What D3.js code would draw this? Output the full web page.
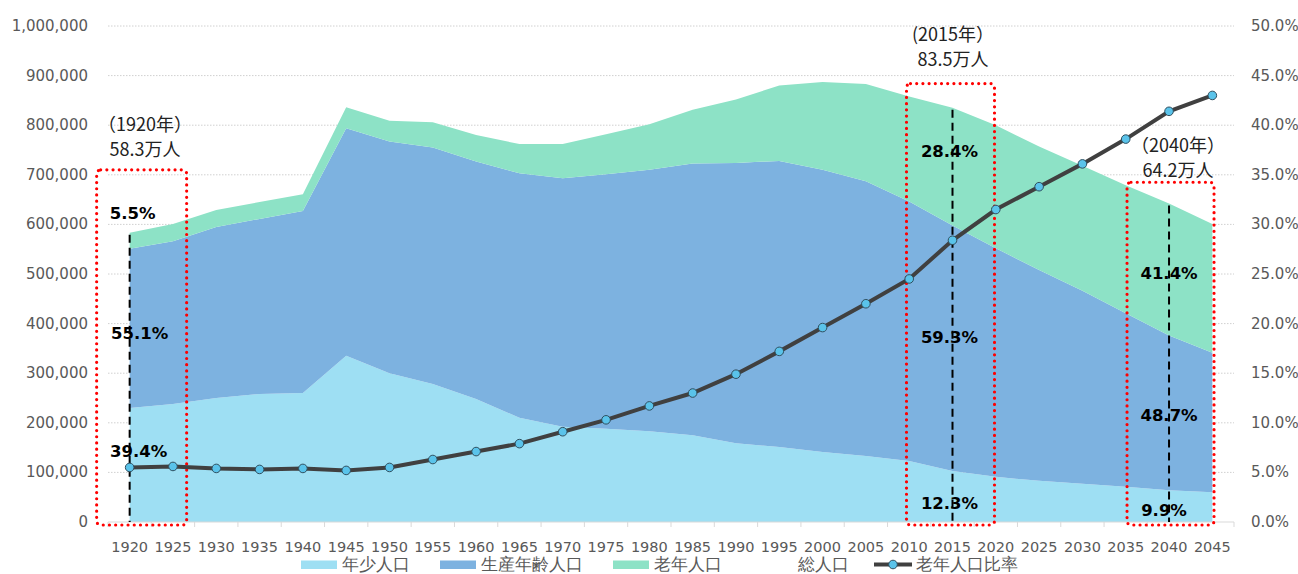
<!DOCTYPE html>
<html>
<head>
<meta charset="utf-8">
<script src="https://cdn.jsdelivr.net/npm/d3@7"></script>
<style>
  body { margin: 0; background: #fff; }
  text { font-family: "DejaVu Sans", sans-serif; }
  .jp { font-family: "Noto Sans CJK JP", sans-serif; }
</style>
</head>
<body>
<script>
// data (persons, and % for the ratio line)
const years = [1920,1925,1930,1935,1940,1945,1950,1955,1960,1965,1970,1975,1980,1985,1990,1995,2000,2005,2010,2015,2020,2025,2030,2035,2040,2045]
const young = [230000,238000,250000,258000,260000,335000,300000,278000,248000,210000,192000,188000,183000,175000,159000,151000,141000,133000,123000,103000,91000,83000,77000,71000,64000,60000]
const working = [321000,328000,345000,353000,367000,459000,467000,477000,479000,493000,501000,513000,527000,548000,565000,577000,569000,554000,523000,495000,461000,425000,389000,350000,312000,281000]
const total = [583000,601000,629000,645000,661000,836000,809000,806000,780000,762000,762000,782000,802000,831000,852000,880000,887000,883000,858000,835000,800000,757000,718000,679000,642000,601000]
const oldRatio = [5.5,5.6,5.4,5.3,5.4,5.2,5.5,6.3,7.1,7.9,9.1,10.3,11.7,13.0,14.9,17.2,19.6,22.0,24.5,28.4,31.5,33.8,36.1,38.6,41.4,43.0]
const leftTicks = [0,100000,200000,300000,400000,500000,600000,700000,800000,900000,1000000]
const rightTicks = [0,5,10,15,20,25,30,35,40,45,50]
const seriesNames = ['年少人口','生産年齢人口','老年人口','総人口','老年人口比率']
const colors = ['#9edff3','#7db2e0','#8de2c6']

const w = 1298, h = 574
const svg = d3.select('body').append('svg').attr('width', w).attr('height', h)

const x = d3.scaleBand().domain(years).range([108, 1234]).padding(0)
const xc = yr => x(yr) + x.bandwidth() / 2
const yL = d3.scaleLinear().domain([0, 1000000]).range([522, 26])
const yR = d3.scaleLinear().domain([0, 50]).range([522, 26])

// grid
svg.append('g').selectAll('line').data(leftTicks.slice(1)).enter().append('line')
  .attr('x1', 108).attr('x2', 1234)
  .attr('y1', d => yL(d)).attr('y2', d => yL(d))
  .attr('stroke', '#d0d0d0').attr('stroke-dasharray', '1.5 1.5')

// stacked areas (old = total - young - working)
const rows = years.map((yr, i) => ({ year: yr, young: young[i], working: working[i], old: total[i] - young[i] - working[i] }))
const stack = d3.stack().keys(['young','working','old'])(rows)
const area = d3.area().x(d => xc(d.data.year)).y0(d => yL(d[0])).y1(d => yL(d[1]))
svg.append('g').selectAll('path').data(stack).enter().append('path')
  .attr('d', area).attr('fill', (d, i) => colors[i])

// axes
const xAxis = svg.append('g').attr('transform', 'translate(0,522)')
xAxis.append('line').attr('x1', 108).attr('x2', 1234).attr('stroke', '#d9d9d9')
xAxis.selectAll('.tk').data(years.concat([null])).enter().append('line')
  .attr('x1', (d, i) => 108 + i * x.bandwidth()).attr('x2', (d, i) => 108 + i * x.bandwidth())
  .attr('y1', 0).attr('y2', 5).attr('stroke', '#d9d9d9')
xAxis.selectAll('text').data(years).enter().append('text')
  .attr('x', d => xc(d)).attr('y', 30).attr('text-anchor', 'middle')
  .attr('font-size', 14.5).attr('fill', '#595959').text(d => d)

svg.append('g').selectAll('text').data(leftTicks).enter().append('text')
  .attr('x', 88).attr('y', d => yL(d) + 5).attr('text-anchor', 'end')
  .attr('font-size', 15).attr('fill', '#595959').text(d => d3.format(',')(d))
svg.append('g').selectAll('text').data(rightTicks).enter().append('text')
  .attr('x', 1251).attr('y', d => yR(d) + 5).attr('text-anchor', 'start')
  .attr('font-size', 15).attr('fill', '#595959').text(d => d.toFixed(1) + '%')

// highlight boxes, dashed guides
const notes = [
  { year: 1920, left: -33, right: 57, top: 710000, head: '（1920年）', total: '58.3万人', hx: 145, labels: [['5.5%', 623000, 3], ['55.1%', 381000, 10], ['39.4%', 143000, 9]] },
  { year: 2015, left: -46, right: 42, top: 884000, head: '(2015年）', total: '83.5万人', hx: 953, labels: [['28.4%', 748000, -3], ['59.3%', 373000, -3], ['12.3%', 38000, -3]] },
  { year: 2040, left: -42, right: 45, top: 685000, head: '（2040年）', total: '64.2万人', hx: 1178, labels: [['41.4%', 502000, 0], ['48.7%', 216000, 0], ['9.9%', 24000, -5]] }
]
notes.forEach(n => {
  const cx = xc(n.year)
  const i = years.indexOf(n.year)
  svg.append('line').attr('x1', cx).attr('x2', cx).attr('y1', yL(total[i]) + 2).attr('y2', 522)
    .attr('stroke', '#000').attr('stroke-width', 2).attr('stroke-dasharray', '8 5')
  svg.append('rect').attr('x', cx + n.left).attr('y', yL(n.top)).attr('width', n.right - n.left)
    .attr('height', 525 - yL(n.top)).attr('rx', 4).attr('fill', 'none')
    .attr('stroke', '#ff0000').attr('stroke-width', 3.2).attr('stroke-linecap', 'round')
    .attr('stroke-dasharray', '0 6.2')
  n.labels.forEach(l => {
    svg.append('text').attr('x', cx + l[2]).attr('y', yL(l[1]) + 6).attr('text-anchor', 'middle')
      .attr('font-size', 16.5).attr('font-weight', 'bold').attr('fill', '#000').text(l[0])
  })
})

// ratio line
const line = d3.line().x((d, i) => xc(years[i])).y(d => yR(d))
svg.append('path').datum(oldRatio).attr('d', line).attr('fill', 'none')
  .attr('stroke', '#404040').attr('stroke-width', 4)
svg.append('g').selectAll('circle').data(oldRatio).enter().append('circle')
  .attr('cx', (d, i) => xc(years[i])).attr('cy', d => yR(d)).attr('r', 4.3)
  .attr('fill', '#5ac3ea').attr('stroke', '#2f4f5f').attr('stroke-width', 1)

// headline texts
const heads = [[notes[0], 125, 150], [notes[1], 35, 60], [notes[2], 146, 171]]
heads.forEach(([n, y1, y2]) => {
  svg.append('text').attr('class', 'jp').attr('x', n.hx).attr('y', y1 + 6).attr('text-anchor', 'middle')
    .attr('font-size', 18).attr('fill', '#222').text(n.head)
  svg.append('text').attr('class', 'jp').attr('x', n.hx).attr('y', y2 + 6).attr('text-anchor', 'middle')
    .attr('font-size', 18).attr('fill', '#222').text(n.total)
})

// legend
const lg = svg.append('g').attr('class', 'jp')
const legX = [301, 440, 613, 757]
colors.concat(['#ffffff']).forEach((c, i) => {
  lg.append('rect').attr('x', legX[i]).attr('y', 560.5).attr('width', 36).attr('height', 8.5).attr('fill', c)
  lg.append('text').attr('x', legX[i] + 41).attr('y', 570).attr('font-size', 16.5).attr('fill', '#595959').text(seriesNames[i])
})
lg.append('line').attr('x1', 874).attr('x2', 912).attr('y1', 564.5).attr('y2', 564.5).attr('stroke', '#404040').attr('stroke-width', 4)
lg.append('circle').attr('cx', 893).attr('cy', 564.5).attr('r', 4.3).attr('fill', '#5ac3ea').attr('stroke', '#2f4f5f')
lg.append('text').attr('x', 916).attr('y', 570).attr('font-size', 16.5).attr('fill', '#595959').text(seriesNames[4])
</script>
</body>
</html>
